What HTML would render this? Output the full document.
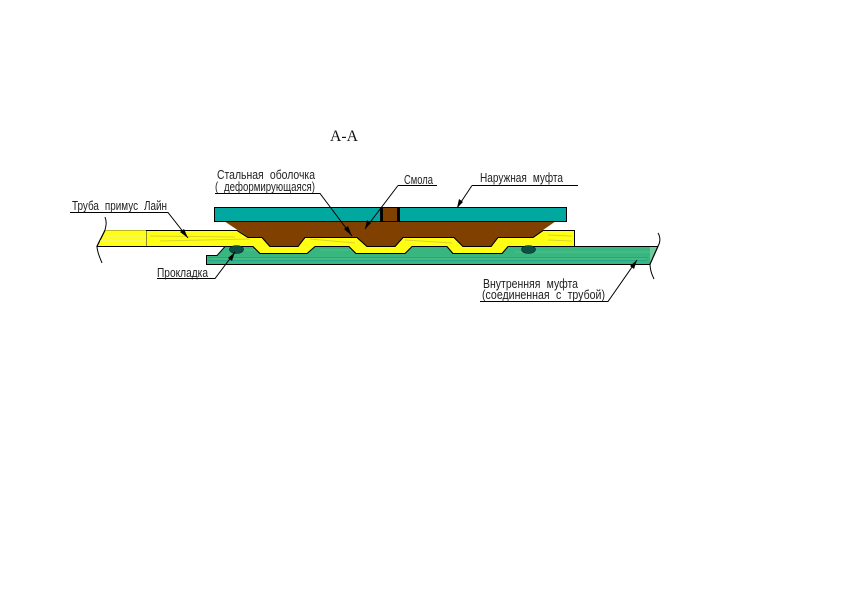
<!DOCTYPE html>
<html><head><meta charset="utf-8"><style>
html,body{margin:0;padding:0;background:#fff;width:841px;height:595px;overflow:hidden}
svg{display:block}
.t{font-family:"Liberation Sans","DejaVu Sans",sans-serif;font-size:12.500px;fill:#222;word-spacing:4px}
.l{stroke:#000;stroke-width:1;fill:none}
</style></head><body>
<svg width="841" height="595" viewBox="0 0 841 595" xmlns="http://www.w3.org/2000/svg">
<rect width="841" height="595" fill="#fff"/>
<text x="330" y="141" font-family="Liberation Serif,serif" font-size="16" fill="#111" textLength="28" lengthAdjust="spacingAndGlyphs">А-А</text>

<!-- green inner sleeve -->
<path d="M206.500 264.500V255.500H217L225 246.500H253L260 253.500H307L315 246.500H349L356 253.500H405L412 246.500H447L453 253.500H502L508 246.500H658L650 264.500Z" fill="#38b67f" stroke="#000"/>
<path d="M208 257.500H648M208 260.500H647" stroke="#1fa08f" stroke-width="1" opacity=".75"/>
<path d="M212 259H646M230 250H300M320 250H400M515 252H652" stroke="#5cc58f" stroke-width="1" opacity=".7"/>
<path d="M650 247H657.500L653 258L650 263Z" fill="#6fcb9c"/>
<path d="M206.500 264.500H650M508 246.500H658" stroke="#000" fill="none"/>

<!-- yellow pipe -->
<path d="M105 230.500H237L248 237.500H262L270 246.500H298L305 237.500H357L367 246.500H395L403 237.500H454L463 246.500H491L498 237.500H533L543 230.500H574.500V246.500H508L502 253.500H453L447 246.500H412L405 253.500H356L349 246.500H315L307 253.500H260L253 246.500H97Z" fill="#ffff14" stroke="#000"/>
<path d="M104 236H146M100 241H146" stroke="#f7f75a" stroke-width="2"/>
<path d="M150 236L235 237M160 241L250 239M548 235L572 236M548 240L572 241M310 239L355 243M405 240L452 243" stroke="#dcd22e" stroke-width="1"/>
<path d="M105 230.500H146" stroke="#b9b52a" stroke-width="1"/>
<path d="M146.500 231V246" stroke="#8f8c1c" stroke-width="1"/>
<path d="M97 246.500H253" stroke="#000"/>

<!-- brown resin -->
<path d="M224 221H556L533 237H498L491 246.500H463L454 237H403L395 246.500H367L357 237H305L298 246.500H270L262 237H248Z" fill="#804000"/>
<path d="M237 230.500L248 237.500H262L270 246.500H298L305 237.500H357L367 246.500H395L403 237.500H454L463 246.500H491L498 237.500H533L543 230.500" class="l"/>

<!-- outer teal sleeve -->
<rect x="214.500" y="207.500" width="352" height="14" fill="#00a8a0" stroke="#000"/>
<rect x="381" y="208" width="18" height="13" fill="#804000"/>
<rect x="380" y="207" width="3" height="14" fill="#000"/>
<rect x="397" y="207" width="3" height="14" fill="#000"/>

<!-- gaskets -->
<ellipse cx="236.500" cy="249.500" rx="7" ry="4" fill="#0c4f43" stroke="#04241e" stroke-width=".6"/>
<ellipse cx="528.500" cy="249.500" rx="7" ry="4" fill="#0c4f43" stroke="#04241e" stroke-width=".6"/>

<!-- break lines -->
<path d="M105 217C107 222 106 226 105 230L97 246C97 252 100 258 102 263" class="l"/>
<path d="M658 233C661 238 660 243 658 246L650 264C650 270 652 275 654 279" class="l"/>

<!-- leaders -->
<path d="M70 212.500H168L188 238M157 278.500H215L235 252M215 193.500H320L352 236M398 185.500H437M398 185.500L365 229M472 185.500H578M472 185.500L457 208M480 301.500H608L637 260" class="l"/>
<path d="M188 238L180 232L184 229Z M235 252L232 261L228 258Z M352 236L344 229L348 226Z M365 229L367 220L371 223Z M457 208L459 199L463 202Z M637 260L634 269L630 266Z" fill="#000"/>

<!-- labels -->
<text class="t" x="72" y="210" textLength="95" lengthAdjust="spacingAndGlyphs">Труба примус Лайн</text>
<text class="t" x="217" y="179" textLength="98" lengthAdjust="spacingAndGlyphs">Стальная оболочка</text>
<text class="t" x="215" y="191" textLength="100" lengthAdjust="spacingAndGlyphs">( деформирующаяся)</text>
<text class="t" x="404" y="184" textLength="29" lengthAdjust="spacingAndGlyphs">Смола</text>
<text class="t" x="480" y="182" textLength="83" lengthAdjust="spacingAndGlyphs">Наружная муфта</text>
<text class="t" x="157" y="277" textLength="51" lengthAdjust="spacingAndGlyphs">Прокладка</text>
<text class="t" x="483" y="288" textLength="95" lengthAdjust="spacingAndGlyphs">Внутренняя муфта</text>
<text class="t" x="482" y="299" textLength="123" lengthAdjust="spacingAndGlyphs">(соединенная с трубой)</text>
</svg>
</body></html>
